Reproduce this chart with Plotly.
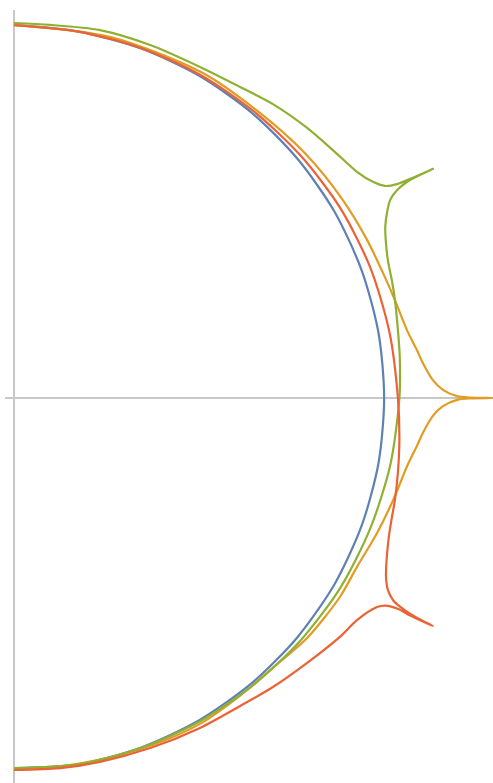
import plotly.graph_objects as go

# Curve samples (data units: blue circle radius ~1)
blue_x = [0.0, 0.173, 0.340, 0.498, 0.640, 0.762, 0.862, 0.935, 0.980, 0.995,
          0.980, 0.935, 0.862, 0.762, 0.640, 0.498, 0.340, 0.173, 0.0]
blue_y = [1.003, 0.985, 0.940, 0.866, 0.766, 0.643, 0.500, 0.342, 0.174, 0.0,
          -0.174, -0.342, -0.500, -0.643, -0.766, -0.866, -0.940, -0.985, -0.995]

orange_x = [0.0, 0.260, 0.505, 0.650, 0.783, 0.884, 0.949, 0.997, 1.024, 1.056,
            1.083, 1.099, 1.126, 1.153, 1.191, 1.226, 1.288,
            1.226, 1.191, 1.153, 1.126, 1.099, 1.083, 1.056, 1.022,
            0.976, 0.922, 0.876, 0.788, 0.696, 0.608, 0.500, 0.366, 0.231, 0.100, 0.0]
orange_y = [1.003, 0.970, 0.875, 0.775, 0.657, 0.532, 0.425, 0.325, 0.263, 0.183,
            0.129, 0.094, 0.048, 0.022, 0.005, 0.001, 0.0,
            -0.001, -0.005, -0.022, -0.048, -0.094, -0.129, -0.185, -0.268,
            -0.363, -0.454, -0.535, -0.645, -0.725, -0.800, -0.876, -0.935, -0.972, -0.993, -0.998]

green_x = [0.0, 0.097, 0.231, 0.366, 0.500, 0.608, 0.696, 0.788, 0.863, 0.922,
           0.965, 0.997, 1.030, 1.065, 1.126,
           1.085, 1.055, 1.030, 1.011, 1.003, 0.998, 1.000, 1.005, 1.016, 1.024,
           1.032, 1.037, 1.036,
           1.012, 0.958, 0.878, 0.771, 0.644, 0.500, 0.340, 0.173, 0.0]
green_y = [1.008, 1.003, 0.989, 0.949, 0.890, 0.836, 0.790, 0.726, 0.661, 0.608,
           0.581, 0.570, 0.575, 0.589, 0.616,
           0.597, 0.580, 0.559, 0.532, 0.500, 0.460, 0.415, 0.370, 0.315, 0.263,
           0.183, 0.110, 0.0,
           -0.178, -0.350, -0.509, -0.651, -0.771, -0.869, -0.941, -0.985, -0.995]

red_x = [0.0, 0.173, 0.340, 0.500, 0.644, 0.771, 0.878, 0.958, 1.009, 1.032,
         1.036, 1.032, 1.024, 1.016, 1.008, 1.002, 1.000, 1.005, 1.020, 1.050,
         1.085, 1.126,
         1.065, 1.030, 0.997, 0.976, 0.922, 0.876, 0.788, 0.696, 0.608, 0.500,
         0.366, 0.231, 0.124, 0.0]
red_y = [1.002, 0.985, 0.941, 0.869, 0.771, 0.651, 0.509, 0.350, 0.178, 0.0,
         -0.110, -0.200, -0.274, -0.320, -0.370, -0.430, -0.481, -0.516, -0.545, -0.570,
         -0.592, -0.613,
         -0.585, -0.566, -0.558, -0.562, -0.597, -0.642, -0.712, -0.777, -0.828, -0.887,
         -0.941, -0.978, -0.995, -1.000]

series = [
    ("blue", blue_x, blue_y, "#5E81B5"),
    ("orange", orange_x, orange_y, "#E19C24"),
    ("green", green_x, green_y, "#8FB032"),
    ("red", red_x, red_y, "#EB6235"),
]

fig = go.Figure()
for name, xs, ys, col in series:
    fig.add_trace(go.Scatter(x=xs, y=ys, mode="lines", name=name,
                             line=dict(color=col, width=2.2, shape="spline", smoothing=0.8),
                             hoverinfo="skip"))

fig.update_layout(
    width=493, height=783,
    margin=dict(l=5, r=0, t=10, b=0),
    paper_bgcolor="white", plot_bgcolor="white",
    showlegend=False,
)
fig.update_xaxes(range=[-0.0242, 1.2876], showgrid=False, showticklabels=False,
                 ticks="", zeroline=True, zerolinecolor="#c8c8c8", zerolinewidth=2,
                 showline=False, fixedrange=True)
fig.update_yaxes(range=[-1.035, 1.043], showgrid=False, showticklabels=False,
                 ticks="", zeroline=True, zerolinecolor="#c8c8c8", zerolinewidth=2,
                 showline=False, fixedrange=True)

fig.write_html("out.html", config={"displayModeBar": False},
               post_script="document.body.style.margin='0';document.body.style.overflow='hidden';")
